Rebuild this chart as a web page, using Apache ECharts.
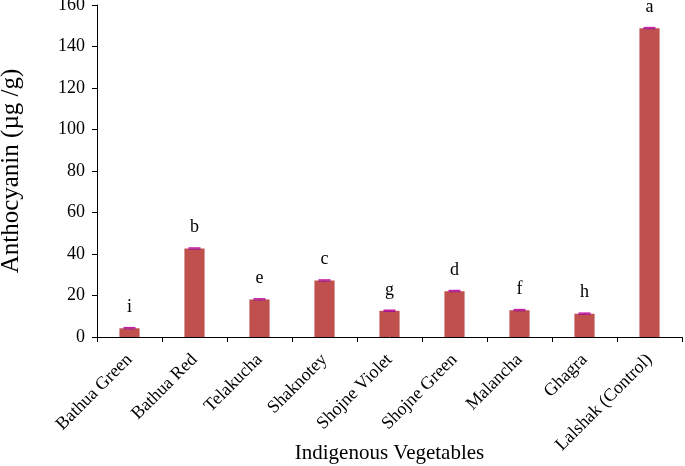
<!DOCTYPE html>
<html><head><meta charset="utf-8">
<script src="https://cdn.jsdelivr.net/npm/echarts@6/dist/echarts.min.js"></script>
<style>html,body{margin:0;padding:0;background:#fff}#c{width:685px;height:466px}</style>
</head><body><div id="c"></div>
<script>
var categories = ["Bathua Green","Bathua Red","Telakucha","Shaknotey","Shojne Violet","Shojne Green","Malancha","Ghagra","Lalshak (Control)"];
var values = [4.2, 42.6, 18.1, 27.2, 12.6, 22.1, 12.9, 11.2, 148.8];
var errors = [0.3, 0.3, 0.3, 0.3, 0.3, 0.3, 0.3, 0.3, 0.3];
var letters = ["i","b","e","c","g","d","f","h","a"];
var yTicks = [0, 20, 40, 60, 80, 100, 120, 140, 160];

var font = "Liberation Serif";
var chart = echarts.init(document.getElementById('c'));
chart.setOption({
  animation: false,
  grid: {left: 97, right: 3, top: 5, bottom: 129, containLabel: false, outerBoundsMode: 'none'},
  xAxis: {
    type: 'category', data: categories,
    axisLine: {lineStyle: {color: '#000', width: 1}},
    axisTick: {show: true, length: 5, lineStyle: {color: '#000'}},
    axisLabel: {rotate: 45, color: '#000', fontFamily: font, fontSize: 18, margin: 20, interval: 0},
    name: 'Indigenous Vegetables', nameLocation: 'middle', nameGap: 106, nameMoveOverlap: false,
    nameTextStyle: {color: '#000', fontFamily: font, fontSize: 21}
  },
  yAxis: {
    type: 'value', min: yTicks[0], max: yTicks[yTicks.length-1], interval: 20,
    splitLine: {show: false},
    axisLine: {show: true, lineStyle: {color: '#000', width: 1}},
    axisTick: {show: true, length: 5, lineStyle: {color: '#000'}},
    axisLabel: {color: '#000', fontFamily: font, fontSize: 18, margin: 12},
    name: 'Anthocyanin (µg /g)', nameLocation: 'middle', nameGap: 73, nameRotate: 90, nameMoveOverlap: false,
    nameTextStyle: {color: '#000', fontFamily: font, fontSize: 25}
  },
  series: [{
    type: 'bar', data: values, barWidth: '31%',
    itemStyle: {color: '#C0504D'},
    label: {show: true, position: 'top', distance: 12, color: '#000', fontFamily: font, fontSize: 18,
      formatter: function(p){ return letters[p.dataIndex]; }}
  }, {
    type: 'custom',
    data: values.map(function(v, i){ return [i, v, errors[i]]; }),
    renderItem: function(params, api){
      var i = api.value(0), v = api.value(1), e = api.value(2);
      var top = api.coord([i, v + e]);
      var bot = api.coord([i, v - e]);
      var w = 12;
      return {type: 'group', children: [
        {type: 'line', shape: {x1: top[0], y1: top[1], x2: top[0], y2: bot[1]}, style: {stroke: '#9B1C8C', lineWidth: 1}},
        {type: 'line', shape: {x1: top[0]-w/2, y1: top[1], x2: top[0]+w/2, y2: top[1]}, style: {stroke: '#C71FA8', lineWidth: 1.5}},
        {type: 'line', shape: {x1: top[0]-w/2, y1: bot[1], x2: top[0]+w/2, y2: bot[1]}, style: {stroke: '#9B1C8C', lineWidth: 1}}
      ]};
    },
    z: 10
  }]
});
</script></body></html>
